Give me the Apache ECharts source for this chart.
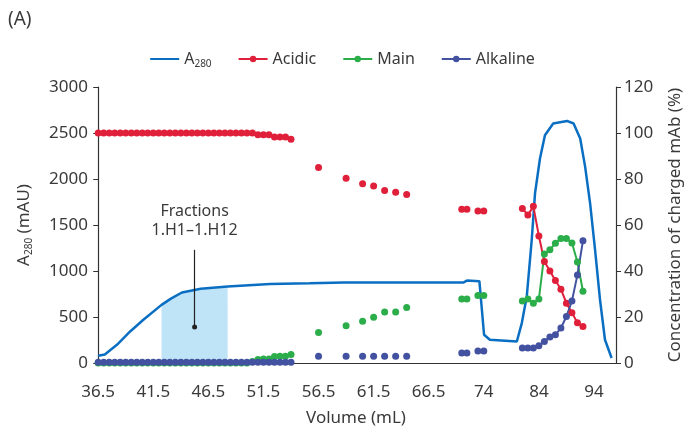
<!DOCTYPE html>
<html>
<head>
<meta charset="utf-8">
<script src="https://cdn.jsdelivr.net/npm/echarts@6/dist/echarts.min.js"></script>
<style>
  html, body { margin: 0; padding: 0; background: #fff; }
  #main { width: 684px; height: 428px; }
</style>
</head>
<body>
<div id="main"></div>
<script>
// x axis is broken: ticks are evenly spaced but volumes are not
var tickVolumes = [36.5, 41.5, 46.5, 51.5, 56.5, 61.5, 66.5, 74, 84, 94];
var tickLabels = ['36.5', '41.5', '46.5', '51.5', '56.5', '61.5', '66.5', '74', '84', '94'];

// A280 trace (mL, mAU)
var a280Vol = [36.5, 37.1, 38.2, 39.4, 40.6, 42.25, 43.1, 44.1, 45.8, 48.25, 52.1, 55.7, 58.8, 71.2, 71.7, 73.4, 74.05, 75.1, 80.0, 80.9, 81.8, 82.7, 83.3, 84.2, 85.1, 86.6, 89.1, 90.3, 91.5, 92.4, 93.3, 94.2, 95.1, 96.0, 97.2];
var a280Val = [78, 92, 198, 343, 470, 632, 700, 766, 806, 831, 858, 866, 874, 874, 896, 889, 307, 253, 234, 434, 722, 1337, 1844, 2223, 2476, 2603, 2631, 2603, 2440, 2132, 1735, 1229, 687, 253, 54];

// fractions 1.H1-1.H12 (shaded)
var fracFrom = 42.25, fracTo = 48.25;
var fracMarkVol = 45.25, fracMarkLow = 390, fracMarkHigh = 1230;

// dense fractions
var denseVol = [36.5, 37, 37.5, 38, 38.5, 39, 39.5, 40, 40.5, 41, 41.5, 42, 42.5, 43, 43.5, 44, 44.5, 45, 45.5, 46, 46.5, 47, 47.5, 48, 48.5, 49, 49.5, 50, 50.5, 51, 51.5, 52, 52.5, 53, 53.5, 54];
var acidicDense = [100, 100, 100, 100, 100, 100, 100, 100, 100, 100, 100, 100, 100, 100, 100, 100, 100, 100, 100, 100, 100, 100, 100, 100, 100, 100, 100, 100, 100, 99.2, 99.2, 99.2, 98.3, 98.3, 98.3, 97.3];
var mainDense = [0, 0, 0, 0, 0, 0, 0, 0, 0, 0, 0, 0, 0, 0, 0, 0, 0, 0, 0, 0, 0, 0, 0, 0, 0, 0, 0, 0, 0.6, 1.5, 1.7, 1.7, 2.8, 2.9, 2.9, 3.7];
var alkalineDense = [0.3, 0.3, 0.3, 0.3, 0.3, 0.3, 0.3, 0.3, 0.3, 0.3, 0.3, 0.3, 0.3, 0.3, 0.3, 0.3, 0.3, 0.3, 0.3, 0.3, 0.3, 0.3, 0.3, 0.3, 0.3, 0.3, 0.3, 0.3, 0.3, 0.3, 0.3, 0.3, 0.3, 0.3, 0.3, 0.3];

// sparse fractions
var sparseVol = [56.5, 59, 60.5, 61.5, 62.5, 63.5, 64.5, 71.0, 71.7, 73.2, 74.0];
var acidicSparse = [85.0, 80.3, 77.9, 77.0, 75.0, 74.2, 73.3, 66.9, 66.9, 66.1, 66.1];
var mainSparse = [13.3, 16.2, 18.1, 19.9, 22.2, 22.2, 24.1, 27.8, 27.8, 29.3, 29.3];
var alkalineSparse = [2.9, 2.9, 2.9, 2.9, 2.9, 2.9, 2.9, 4.3, 4.3, 5.2, 5.2];

// last peak fractions (joined)
var endVol = [81, 82, 83, 84, 85, 86, 87, 88, 89, 90, 91, 92];
var acidicEnd = [67.2, 64.3, 68.1, 55.2, 44.1, 40.0, 35.9, 32.1, 26.0, 21.9, 17.5, 15.9];
var mainEnd = [27.0, 27.8, 26.0, 27.8, 47.4, 49.2, 52.1, 54.1, 54.1, 52.2, 43.9, 31.2];
var alkalineEnd = [6.5, 6.5, 6.5, 7.5, 9.4, 11.3, 12.3, 15.2, 20.2, 27.0, 38.3, 53.1];

var colA280 = '#0a6fc2', colAcidic = '#e0203a', colMain = '#2bae4a', colAlk = '#4352a0';
var txt = '#3a3a3a';
var font = 'Noto Sans';

// volume -> position on the broken axis (one unit per tick)
function volPos(v) {
	var n = tickVolumes.length;
	for (var i = 0; i < n - 1; i++) {
		if (v <= tickVolumes[i + 1]) {
			return i + (v - tickVolumes[i]) / (tickVolumes[i + 1] - tickVolumes[i]);
		}
	}
	return (n - 1) + (v - tickVolumes[n - 1]) / (tickVolumes[n - 1] - tickVolumes[n - 2]);
}

function pairs(vols, vals) {
	var out = [];
	for (var i = 0; i < vols.length; i++) {
		out.push([volPos(vols[i]), vals[i]]);
	}
	return out;
}

var shade = [];
for (var i = 0; i < a280Vol.length; i++) {
	if (a280Vol[i] >= fracFrom && a280Vol[i] <= fracTo) shade.push([volPos(a280Vol[i]), a280Val[i]]);
}

var tickPos = [];
for (var i = 0; i < tickVolumes.length; i++) tickPos.push(i);

function species(name, color, dVals, sVals, eVals) {
	return [
		{
			name: name, type: 'line', yAxisIndex: 1, z: 4,
			data: pairs(endVol, eVals),
			symbol: 'circle', symbolSize: 7, showAllSymbol: true,
			itemStyle: { color: color },
			lineStyle: { color: color, width: 2 }
		},
		{
			name: name, type: 'scatter', yAxisIndex: 1, z: 4,
			data: pairs(denseVol, dVals).concat(pairs(sparseVol, sVals)),
			symbol: 'circle', symbolSize: 7,
			itemStyle: { color: color, opacity: 1 }
		}
	];
}

function plain(v) { return String(v); }

var myChart = echarts.init(document.getElementById('main'));
var option = {
	backgroundColor: '#fff',
	animation: false,
	textStyle: { fontFamily: font, color: txt },
	graphic: [
		{ type: 'text', left: 8, top: 10, style: { text: '(A)', fontSize: 19, fontFamily: font, fill: txt } }
	],
	legend: {
		top: 46,
		left: 'center',
		itemWidth: 29,
		itemHeight: 8,
		itemGap: 26,
		data: [{ name: 'A280', itemStyle: { opacity: 0 } }, 'Acidic', 'Main', 'Alkaline'],
		formatter: function (name) {
			return name == 'A280' ? 'A{s|280}' : name;
		},
		textStyle: {
			fontSize: 16, color: txt, fontFamily: font,
			rich: { s: { fontSize: 10, color: txt, fontFamily: font, padding: [10, 0, 0, 0] } }
		}
	},
	grid: { left: 96, right: 68, top: 87, bottom: 65, containLabel: false, outerBoundsMode: 'none' },
	xAxis: {
		type: 'value',
		min: -0.04,
		max: 9.4,
		name: 'Volume (mL)',
		nameLocation: 'middle',
		nameGap: 47,
		nameTextStyle: { fontSize: 17, color: txt },
		axisLine: { lineStyle: { color: '#333', width: 1.2 } },
		axisTick: { show: false },
		splitLine: { show: false },
		axisLabel: {
			customValues: tickPos,
			fontSize: 17, color: txt, margin: 21,
			formatter: function (v) { return tickLabels[Math.round(v)]; }
		}
	},
	yAxis: [
		{
			type: 'value', min: 0, max: 3000, interval: 500,
			name: 'A{s|280} (mAU)',
			nameLocation: 'middle', nameGap: 62, nameRotate: 90,
			nameTextStyle: {
				fontSize: 17, color: txt,
				rich: { s: { fontSize: 10, color: txt, padding: [10, 0, 0, 0] } }
			},
			axisLine: { show: true, lineStyle: { color: '#333', width: 1.2 } },
			axisTick: { show: true, length: 5, lineStyle: { color: '#333' } },
			splitLine: { show: false },
			axisLabel: { fontSize: 17, color: txt, margin: 8, formatter: plain }
		},
		{
			type: 'value', min: 0, max: 120, interval: 20, position: 'right',
			name: 'Concentration of charged mAb (%)',
			nameLocation: 'middle', nameGap: 51, nameRotate: 90,
			nameTextStyle: { fontSize: 17, color: txt },
			axisLine: { show: true, lineStyle: { color: '#333', width: 1.2 } },
			axisTick: { show: true, length: 5, lineStyle: { color: '#333' } },
			splitLine: { show: false },
			axisLabel: { fontSize: 17, color: txt, margin: 8, formatter: plain }
		}
	],
	series: [
		{
			name: 'fractions', type: 'line', yAxisIndex: 0, z: 1, silent: true,
			data: shade, symbol: 'none',
			lineStyle: { width: 0 },
			areaStyle: { color: '#bfe3f7', opacity: 1 },
			markLine: {
				silent: true,
				symbol: ['circle', 'none'],
				symbolSize: 5,
				lineStyle: { color: '#222', width: 1.2, type: 'solid' },
				label: {
					show: true, position: 'end', distance: 10,
					formatter: 'Fractions\n1.H1\u20131.H12',
					fontSize: 16, lineHeight: 19, color: txt, fontFamily: font
				},
				data: [[
					{ coord: [volPos(fracMarkVol), fracMarkLow] },
					{ coord: [volPos(fracMarkVol), fracMarkHigh] }
				]]
			}
		},
		{
			name: 'A280', type: 'line', yAxisIndex: 0, z: 3,
			data: pairs(a280Vol, a280Val),
			symbol: 'none',
			itemStyle: { color: colA280 },
			lineStyle: { color: colA280, width: 2.5 }
		}
	].concat(species('Acidic', colAcidic, acidicDense, acidicSparse, acidicEnd))
	 .concat(species('Main', colMain, mainDense, mainSparse, mainEnd))
	 .concat(species('Alkaline', colAlk, alkalineDense, alkalineSparse, alkalineEnd))
};
myChart.setOption(option);
</script>
</body>
</html>
